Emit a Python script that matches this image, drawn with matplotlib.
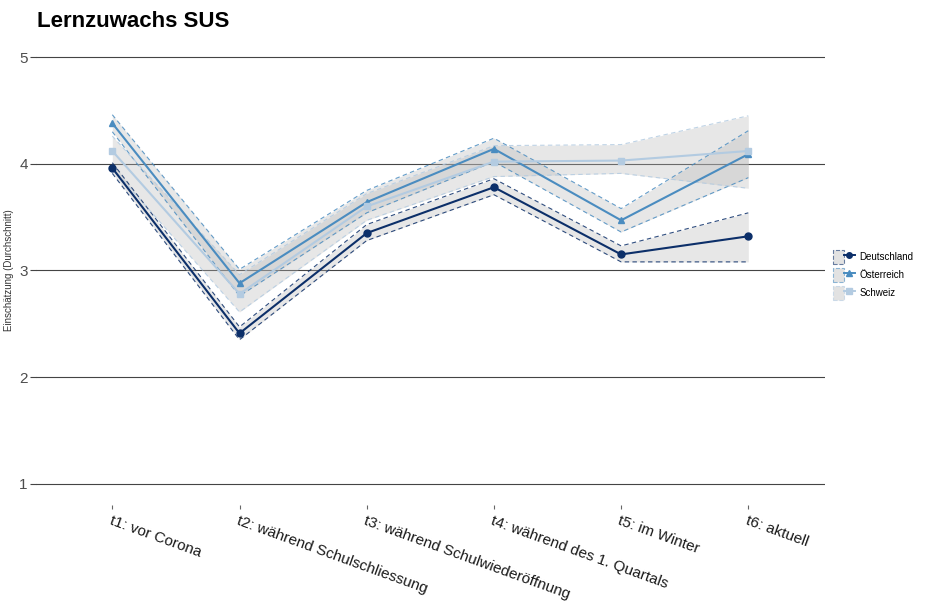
import matplotlib.pyplot as plt
from matplotlib.lines import Line2D
from matplotlib.patches import Patch
from matplotlib.legend_handler import HandlerTuple

plt.rcParams['font.family'] = ['Liberation Sans', 'DejaVu Sans']

# Zeitpunkte
labels = ["t1: vor Corona", "t2: während Schulschliessung",
          "t3: während Schulwiederöffnung", "t4: während des 1. Quartals",
          "t5: im Winter", "t6: aktuell"]

# Mittelwerte und Konfidenzband je Land
de_mean = [3.96, 2.41, 3.35, 3.78, 3.15, 3.32]
de_lo = [3.91, 2.35, 3.28, 3.71, 3.08, 3.08]
de_hi = [4.01, 2.47, 3.43, 3.86, 3.23, 3.54]

at_mean = [4.38, 2.88, 3.64, 4.14, 3.47, 4.09]
at_lo = [4.30, 2.76, 3.54, 4.02, 3.36, 3.87]
at_hi = [4.46, 3.01, 3.75, 4.24, 3.58, 4.31]

ch_mean = [4.12, 2.78, 3.60, 4.02, 4.03, 4.12]
ch_lo = [3.96, 2.61, 3.47, 3.88, 3.91, 3.77]
ch_hi = [4.26, 2.96, 3.72, 4.17, 4.18, 4.45]

laender = ["Deutschland", "Österreich", "Schweiz"]
farben = ["#0c2f69", "#4a8cc0", "#b3cbe1"]
marker = ["o", "^", "s"]

x = list(range(1, len(labels) + 1))

fig = plt.figure(figsize=(9.3, 6.07), dpi=100)
ax = fig.add_axes([0.0387, 0.168, 0.848, 0.773])

daten = [(de_mean, de_lo, de_hi), (at_mean, at_lo, at_hi), (ch_mean, ch_lo, ch_hi)]
handles = []
for (m, lo, hi), name, col, mk in zip(daten, laender, farben, marker):
    ax.fill_between(x, lo, hi, color="#b8b8b8", alpha=0.33, linewidth=0, zorder=1)
    ax.plot(x, lo, color=col, linestyle=(0, (4, 3)), linewidth=0.8, alpha=0.85, zorder=2)
    ax.plot(x, hi, color=col, linestyle=(0, (4, 3)), linewidth=0.8, alpha=0.85, zorder=2)
    ax.plot(x, m, color=col, linewidth=1.5, marker=mk, markersize=5, zorder=3)
    p = Patch(facecolor="#d0d0d0", alpha=0.6, edgecolor=col, linestyle="--", linewidth=0.8)
    l = Line2D([0], [0], color=col, marker=mk, markersize=4, linewidth=1.4)
    handles.append((p, l))

ax.set_xlim(0.4, 6.6)
ax.set_ylim(0.8, 5.2)
ax.set_yticks([1, 2, 3, 4, 5])
ax.yaxis.grid(True, color="#444444", linewidth=0.8)
ax.set_axisbelow(True)
for s in ax.spines.values():
    s.set_visible(False)

ax.set_xticks(x)
ax.set_xticklabels(labels, rotation=-20, ha="left", va="top",
                   rotation_mode="anchor", fontsize=11, color="#1a1a1a")
ax.tick_params(axis="x", length=3, color="#666666", pad=3)
ax.tick_params(axis="y", length=4, color="#444444", labelsize=11,
               labelcolor="#4d4d4d", pad=2)
ax.set_ylabel("Einschätzung (Durchschnitt)", fontsize=7, color="#333333", labelpad=4)

fig.text(0.04, 0.965, "Lernzuwachs SUS", fontsize=16, fontweight="bold", va="center")

ax.legend(handles, laender, handler_map={tuple: HandlerTuple(ndivide=None, pad=0)},
          loc="center left", bbox_to_anchor=(1.0, 0.49), frameon=False,
          fontsize=7, handlelength=2.2, handleheight=1.8, labelspacing=0.45,
          handletextpad=0.5)

fig.savefig("out.png", dpi=100)
